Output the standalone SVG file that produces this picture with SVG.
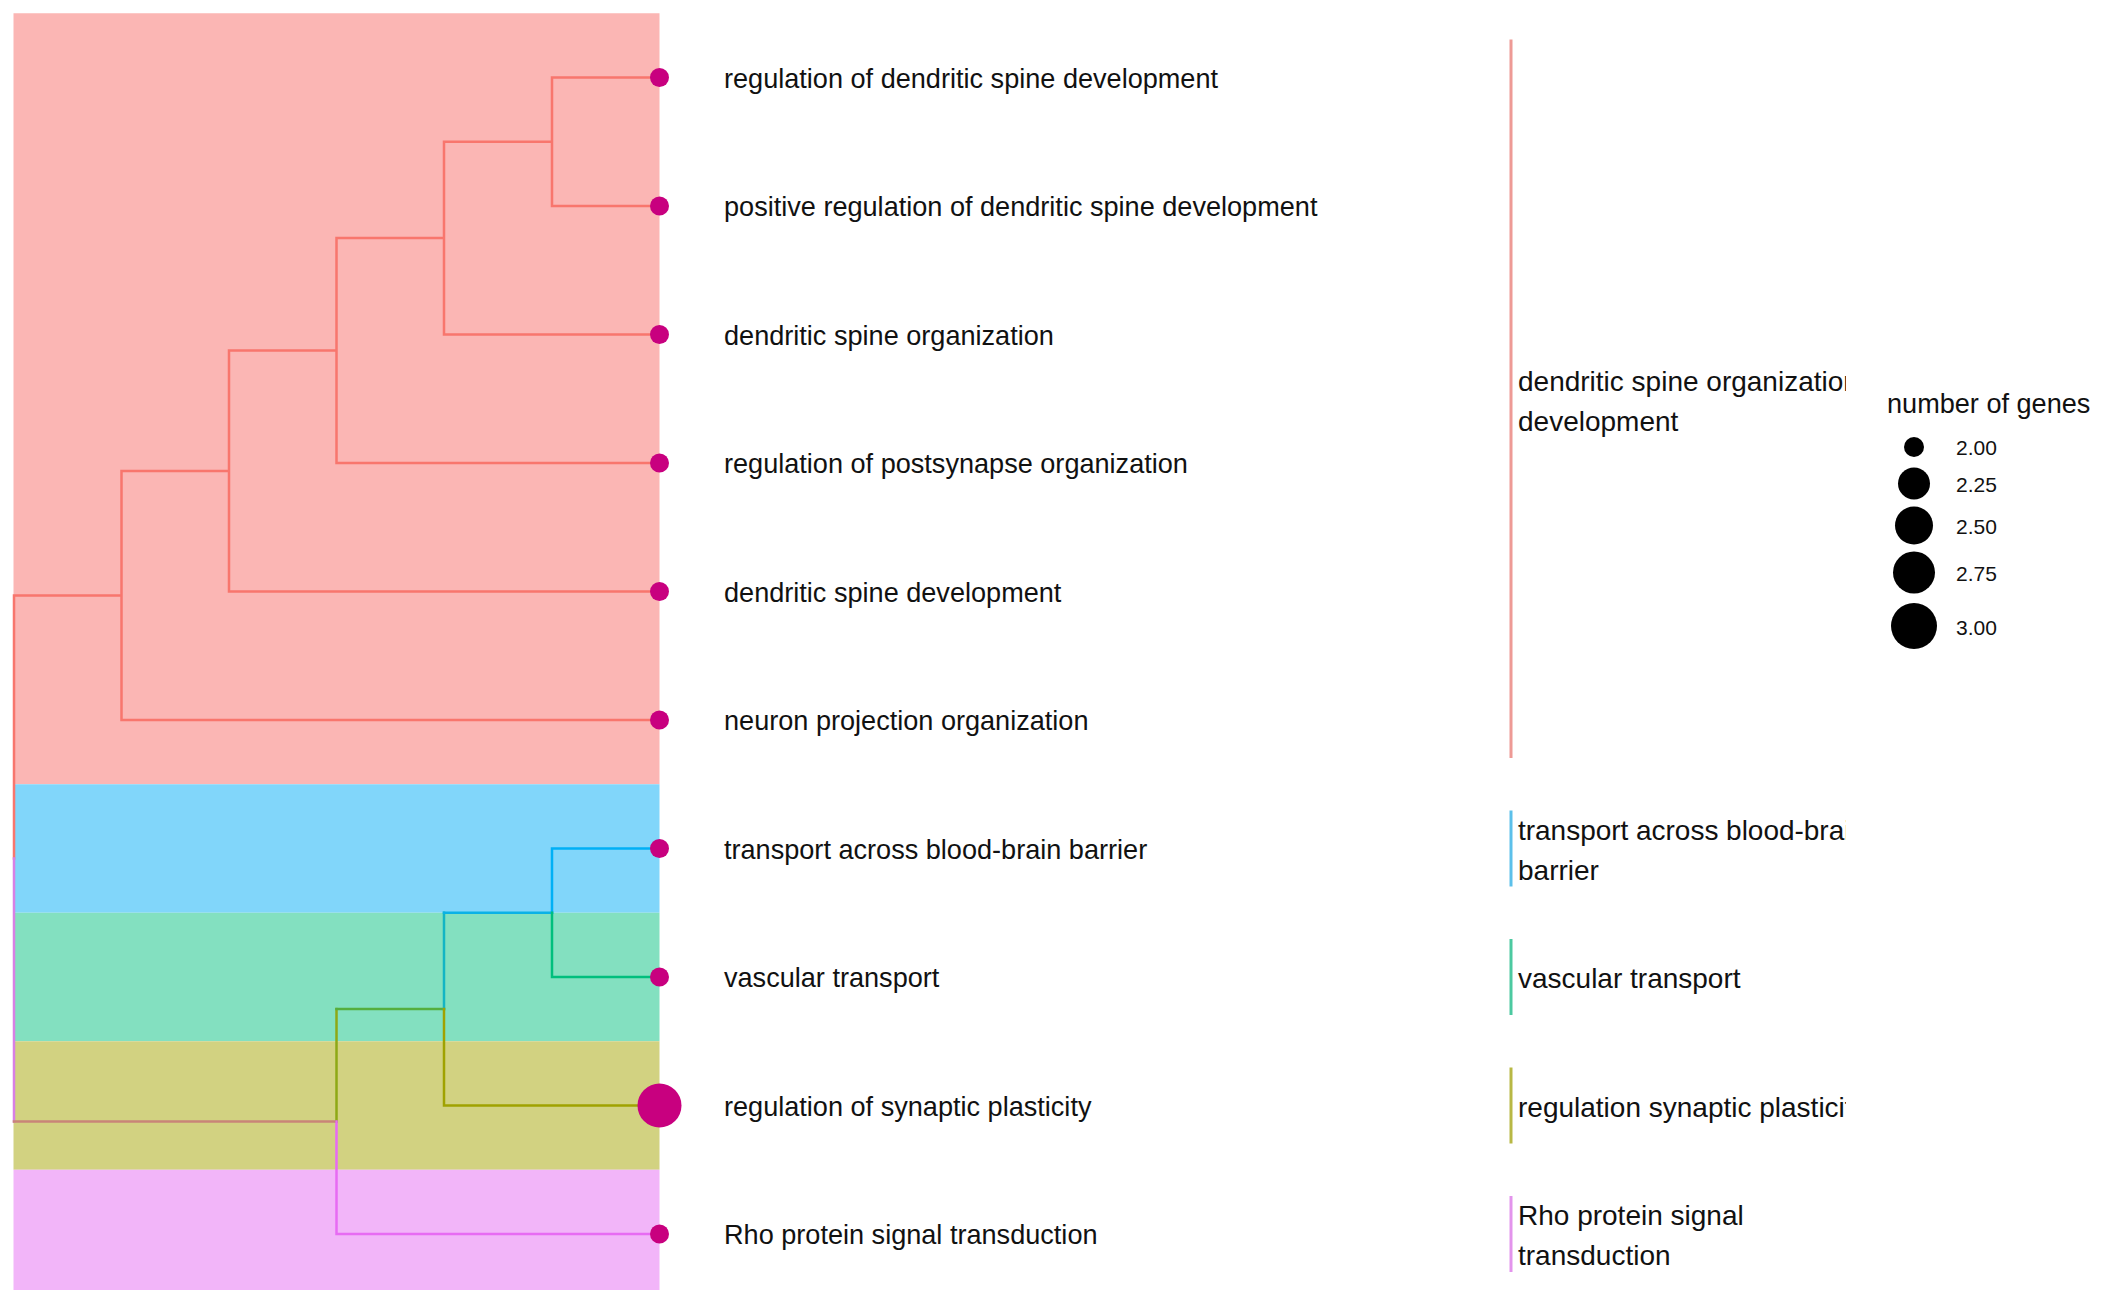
<svg xmlns="http://www.w3.org/2000/svg" width="2110" height="1290" viewBox="0 0 2110 1290">
<defs>
<style>
text{font-family:"Liberation Sans",Arial,sans-serif;fill:#111}
.lab{font-size:27.1px}
.cl{font-size:28px}
.leg{font-size:21px}
.dot{fill:#C8007F}
.br{fill:none;stroke-width:2.5;stroke-linecap:square}
.pk{stroke:#F8766D}
.bl{stroke:#00B0F6}
.gr{stroke:#00BF7D}
.ol{stroke:#A0A200}
.vi{stroke:#E76BF3}
.bar{stroke-width:3}
</style>
<clipPath id="clipLab"><rect x="1500" y="0" width="346" height="1290"/></clipPath>
</defs>
<rect width="2110" height="1290" fill="#fff"/>
<g id="bands">
<rect x="13.5" y="13.25" width="646" height="771" fill="#FBB6B4"/>
<rect x="13.5" y="784.25" width="646" height="128.5" fill="#81D6FA"/>
<rect x="13.5" y="912.75" width="646" height="128.5" fill="#83E0C0"/>
<rect x="13.5" y="1041.25" width="646" height="128.5" fill="#D2D281"/>
<rect x="13.5" y="1169.75" width="646" height="130" fill="#F2B5F9"/>
</g>
<g id="connectors">
<path class="br pk" d="M552 77.5H659.5M552 206H659.5M552 77.5V206M444 141.75H552M444 334.5H659.5M444 141.75V334.5M336.5 238.1H444M336.5 463H659.5M336.5 238.1V463M229 350.6H336.5M229 591.5H659.5M229 350.6V591.5M121.5 471H229M121.5 720H659.5M121.5 471V720M14 595.5H121.5M14 595.5V858.5"/>
<path class="br" stroke="#D880E4" d="M14 858.5V1121.6"/>
<path class="br" stroke="#C98578" d="M14 1121.6H336.5"/>
<path class="br" stroke="#8EA816" d="M336.5 1009.1V1121.6"/>
<path class="br vi" d="M336.5 1121.6V1234M336.5 1234H659.5"/>
<path class="br" stroke="#55AE3E" d="M336.5 1009.1H444"/>
<path class="br" stroke="#14B5C4" d="M444 912.75V1009.1"/>
<path class="br ol" d="M444 1009.1V1105.5M444 1105.5H659.5"/>
<path class="br" stroke="#0AB2E6" d="M444 912.75H552"/>
<path class="br bl" d="M552 848.5V912.75M552 848.5H659.5"/>
<path class="br gr" d="M552 912.75V977M552 977H659.5"/>
</g>
<g id="leaf0"><circle class="dot" cx="659.5" cy="77.5" r="9.5"/><text class="lab" x="724" y="87.75">regulation of dendritic spine development</text></g>
<g id="leaf1"><circle class="dot" cx="659.5" cy="206" r="9.5"/><text class="lab" x="724" y="216.25">positive regulation of dendritic spine development</text></g>
<g id="leaf2"><circle class="dot" cx="659.5" cy="334.5" r="9.5"/><text class="lab" x="724" y="344.75">dendritic spine organization</text></g>
<g id="leaf3"><circle class="dot" cx="659.5" cy="463" r="9.5"/><text class="lab" x="724" y="473.25">regulation of postsynapse organization</text></g>
<g id="leaf4"><circle class="dot" cx="659.5" cy="591.5" r="9.5"/><text class="lab" x="724" y="601.75">dendritic spine development</text></g>
<g id="leaf5"><circle class="dot" cx="659.5" cy="720" r="9.5"/><text class="lab" x="724" y="730.25">neuron projection organization</text></g>
<g id="leaf6"><circle class="dot" cx="659.5" cy="848.5" r="9.5"/><text class="lab" x="724" y="858.75">transport across blood-brain barrier</text></g>
<g id="leaf7"><circle class="dot" cx="659.5" cy="977" r="9.5"/><text class="lab" x="724" y="987.25">vascular transport</text></g>
<g id="leaf8"><circle class="dot" cx="659.5" cy="1105.5" r="22"/><text class="lab" x="724" y="1115.75">regulation of synaptic plasticity</text></g>
<g id="leaf9"><circle class="dot" cx="659.5" cy="1234" r="9.5"/><text class="lab" x="724" y="1244.25">Rho protein signal transduction</text></g>
<g id="cluster-pink"><line class="bar" x1="1511" y1="39.5" x2="1511" y2="758" stroke="#EE9A95"/><g clip-path="url(#clipLab)"><text class="cl" x="1518" y="391">dendritic spine organization</text><text class="cl" x="1518" y="431">development</text></g></g>
<g id="cluster-blue"><line class="bar" x1="1511" y1="810.5" x2="1511" y2="886.5" stroke="#5CC0EA"/><g clip-path="url(#clipLab)"><text class="cl" x="1518" y="839.5" textLength="348" lengthAdjust="spacing">transport across blood-brain</text><text class="cl" x="1518" y="879.5">barrier</text></g></g>
<g id="cluster-green"><line class="bar" x1="1511" y1="939" x2="1511" y2="1015" stroke="#4CC9A0"/><g clip-path="url(#clipLab)"><text class="cl" x="1518" y="988">vascular transport</text></g></g>
<g id="cluster-olive"><line class="bar" x1="1511" y1="1067.5" x2="1511" y2="1143.5" stroke="#B8B845"/><g clip-path="url(#clipLab)"><text class="cl" x="1518" y="1116.5">regulation synaptic plasticity</text></g></g>
<g id="cluster-violet"><line class="bar" x1="1511" y1="1196" x2="1511" y2="1272" stroke="#E394EC"/><g clip-path="url(#clipLab)"><text class="cl" x="1518" y="1225">Rho protein signal</text><text class="cl" x="1518" y="1265">transduction</text></g></g>
<g id="legend">
<text class="lab" x="1887" y="413">number of genes</text>
<circle cx="1914" cy="447" r="10" fill="#000"/>
<circle cx="1914" cy="483.5" r="16" fill="#000"/>
<circle cx="1914" cy="525.5" r="19" fill="#000"/>
<circle cx="1914" cy="572.5" r="21" fill="#000"/>
<circle cx="1914" cy="626" r="23" fill="#000"/>
<text class="leg" x="1956" y="455">2.00</text>
<text class="leg" x="1956" y="491.5">2.25</text>
<text class="leg" x="1956" y="533.5">2.50</text>
<text class="leg" x="1956" y="580.5">2.75</text>
<text class="leg" x="1956" y="634.5">3.00</text>
</g>
</svg>
